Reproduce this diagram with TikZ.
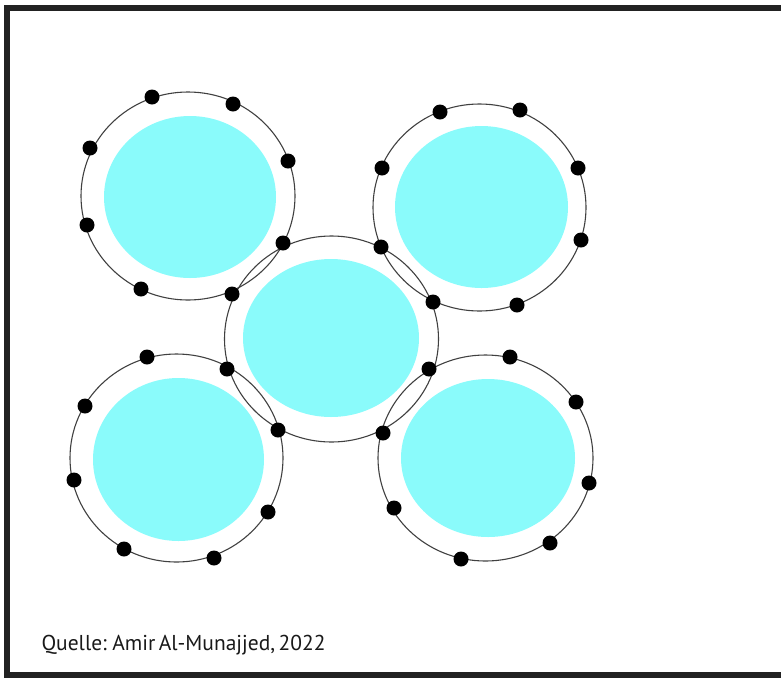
\documentclass[tikz,border=0pt]{standalone}
\usepackage{fontspec}
\setmainfont[WordSpace=0.6]{PT Sans}
\usetikzlibrary{shapes.geometric}
\definecolor{cellcyan}{RGB}{138,251,251}
\definecolor{framegray}{RGB}{34,34,34}

\begin{document}
\begin{tikzpicture}[x=1pt, y=-1pt]
    \tikzstyle{membrane}=[ellipse, draw=black!75, line width=1.1pt, inner sep=0pt]
    \tikzstyle{core}=[ellipse, fill=cellcyan, inner sep=0pt]
    \tikzstyle{site}=[circle, fill=black, minimum size=15pt, inner sep=0pt]

    \useasboundingbox (0,0) rectangle (781,678);
    \clip (0,0) rectangle (781,678);

    % frame, open to the right
    \draw[framegray, line width=6pt] (800,8) -- (7,8) -- (7,675) -- (800,675);

    % membranes
    \foreach \name / \x / \y / \w / \h in {TL/188/196/214/208, TR/479.5/207.5/213/207,
        C/331.5/339/214/206, BL/176.5/458/213/208, BR/485.5/458/215/206}
        \node[membrane, minimum width=\w, minimum height=\h] (ring-\name) at (\x,\y) {};

    % cores
    \foreach \name / \x / \y / \w / \h in {TL/190/197/172/162, TR/481.5/207/173/162,
        C/331/338/176/158, BL/178.5/459.5/171/163, BR/488/458/174/158}
        \node[core, minimum width=\w, minimum height=\h] (core-\name) at (\x,\y) {};

    % binding sites
    \foreach \x / \y [count=\i] in {152/97, 233/104, 288/161, 90/148, 87/225, 141/289,
        232/294, 283/243, 440/112, 520/110, 578/168, 382/168, 581/240, 381/247,
        433/302, 517/305, 147/357, 85/406, 227/369, 74/480, 278/430, 268/512,
        124/549, 214/558, 510/357, 576/402, 429/369, 383/433, 589/483, 394/508,
        550/543, 461/559}
        \node[site] (site-\i) at (\x,\y) {};

    \node[anchor=base west, text=black!90, font=\fontsize{21.5}{26}\selectfont]
        (source) at (38,650) {Quelle: Amir Al-Munajjed, 2022};
\end{tikzpicture}
\end{document}
